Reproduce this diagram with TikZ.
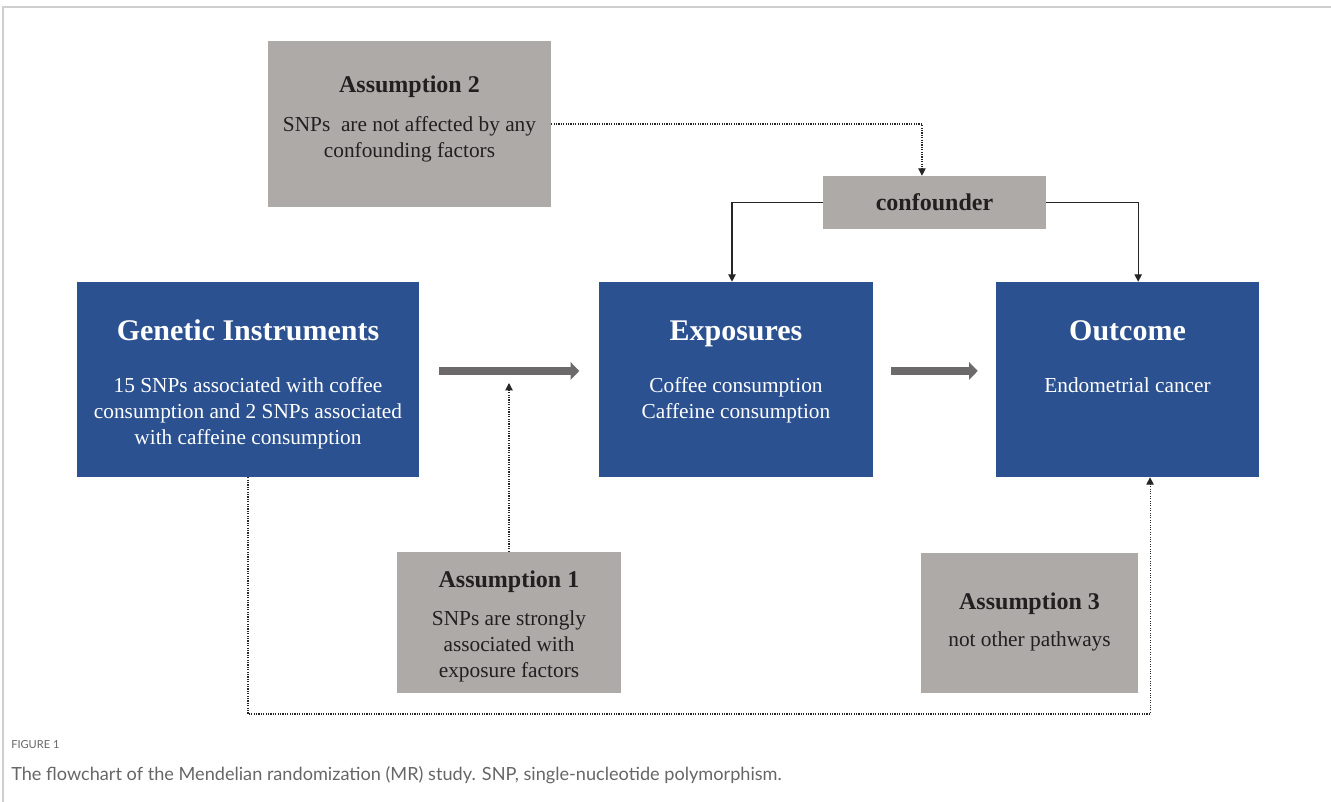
\documentclass[tikz,border=0pt]{standalone}
\usepackage{fontspec}
\setmainfont{Liberation Serif}
\newfontfamily\captionfont{Lato}
\usepackage{tikz}
\usetikzlibrary{calc, positioning}
\usetikzlibrary{shapes, arrows, arrows.meta}

\definecolor{mrblue}{HTML}{2B5190}
\definecolor{mrgray}{HTML}{ADAAA8}
\definecolor{mrarrow}{HTML}{6D6A6B}
\definecolor{mrframe}{HTML}{CFCFCF}
\definecolor{mrcaption}{HTML}{666666}
\definecolor{mrtext}{HTML}{231F20}

\newcommand{\titlesize}{\fontsize{22.5}{27}\selectfont\bfseries}
\newcommand{\bodysize}{\fontsize{16}{19.5}\selectfont}
\newcommand{\asssize}{\fontsize{18}{21}\selectfont\bfseries}

\tikzset{
    auto, node distance = 1.1 cm and 1.1 cm,% boxes are placed at coordinates, texts relative to them
    bluebox/.style={rectangle, fill=mrblue, inner sep=0pt, minimum height=146.25pt},
    graybox/.style={rectangle, fill=mrgray, inner sep=0pt},
    asstext/.style={inner sep=0pt, align=center, text=mrtext, font=\bodysize},
    boxtitle/.style={inner sep=0pt, text=white, font=\titlesize, text height=15.5pt, text depth=5pt},
    boxbody/.style={inner sep=0pt, text=white, align=center, font=\bodysize},
    bigarrow/.style={-{Triangle[length=6.5pt, width=13pt]}, line width=6pt, mrarrow},
    conarrow/.style={-{Triangle[length=5.5pt, width=5.5pt]}, line width=0.9pt, black!85},
    dotarrow/.style={-{Triangle[length=5.5pt, width=5.5pt]}, line width=0.8pt, densely dotted, black!85},
}

\begin{document}
\begin{tikzpicture}[x=0.75pt, y=-0.75pt]
            \useasboundingbox (0,0) rectangle (1331,802);
            \draw[mrframe, line width=0.8pt] (3,802) -- (3,7) -- (1331,7);

            % main boxes
            \node[bluebox, minimum width=256.5pt] (gen) at (248,379.5) {};
            \node[boxtitle, below=28.25pt of gen.north] (gentitle) {Genetic Instruments};
            \node[boxbody, below=22.75pt of gentitle.south] (genbody) {15 SNPs associated with coffee\\ consumption and 2 SNPs associated\\ with caffeine consumption};

            \node[bluebox, minimum width=205.5pt] (exp) at (736,379.5) {};
            \node[boxtitle, below=28.25pt of exp.north] (exptitle) {Exposures};
            \node[boxbody, below=22.75pt of exptitle.south] (expbody) {Coffee consumption\\ Caffeine consumption};

            \node[bluebox, minimum width=197.25pt] (out) at (1127.5,379.5) {};
            \node[boxtitle, below=28.25pt of out.north] (outtitle) {Outcome};
            \node[boxbody, below=22.75pt of outtitle.south] (outbody) {Endometrial cancer};

            % assumptions
            \node[graybox, minimum width=212.25pt, minimum height=124.5pt] (ass2) at (409.5,124) {};
            \node[asstext, yshift=4pt] (ass2txt) at (ass2) {{\asssize Assumption 2}\\[9.5pt] SNPs~ are not affected by any\\ confounding factors};
            \node[graybox, minimum width=167.25pt, minimum height=39.75pt, text=mrtext, font=\asssize] (conf) at (934.5,202.5) {confounder};
            \node[graybox, minimum width=168pt, minimum height=105.75pt] (ass1) at (509,622.5) {};
            \node[asstext, yshift=-3pt] (ass1txt) at (ass1) {{\asssize Assumption 1}\\[9.5pt] SNPs are strongly\\ associated with\\ exposure factors};
            \node[graybox, minimum width=162.75pt, minimum height=105pt] (ass3) at (1029.5,623) {};
            \node[asstext, yshift=1pt] (ass3txt) at (ass3) {{\asssize Assumption 3}\\[8pt] not other pathways};

            \coordinate (a1tip) at (509,383);
            \coordinate (lowpath) at (247,714);

            % connectors
            \draw[bigarrow, shorten <=15pt, shorten >=14.6pt] ([yshift=6.4pt]gen.east) -- ([yshift=6.4pt]exp.west);
            \draw[bigarrow, shorten <=13.5pt, shorten >=13.5pt] ([yshift=6.4pt]exp.east) -- ([yshift=6.4pt]out.west);
            \draw[conarrow] (conf.west) -| ([xshift=-3pt]exp.north);
            \draw[conarrow] (conf.east) -| ([xshift=8pt]out.north);
            \draw[dotarrow] (ass2.east) -| ([xshift=-9.4pt]conf.north);
            \draw[dotarrow] (ass1.north) -- (a1tip);
            \draw[dotarrow] (gen.south) -- (gen.south |- lowpath) -| ([xshift=16.9pt]out.south);

            % caption
            \node[anchor=west, inner sep=0pt, font=\captionfont\fontsize{8.3}{10}\selectfont, text=mrcaption] (figlabel) at (11,745) {FIGURE 1};
            \node[anchor=west, inner sep=0pt, font=\captionfont\fontsize{13.6}{16}\selectfont, text=mrcaption] (figcaption) at (11,775) {The flowchart of the Mendelian randomization (MR) study. SNP, single-nucleotide polymorphism.};
\end{tikzpicture}
\end{document}
